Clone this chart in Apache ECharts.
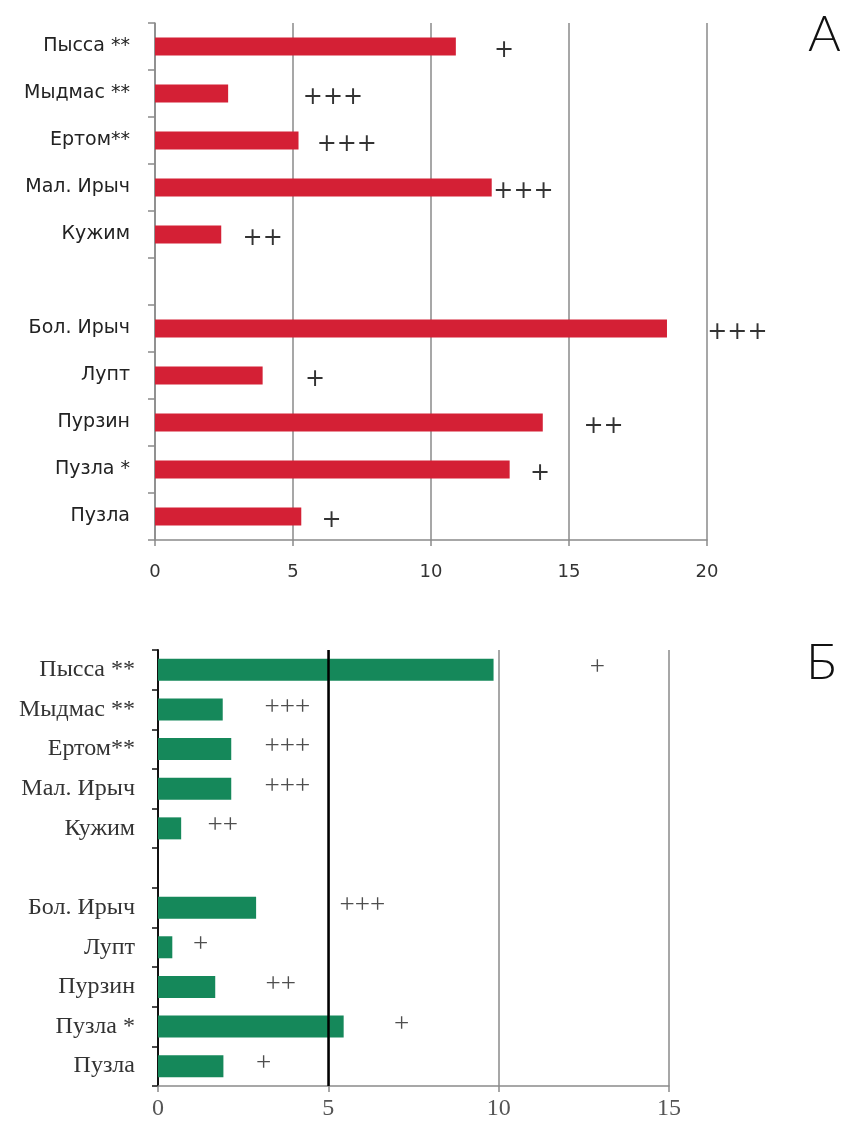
<!DOCTYPE html>
<html>
<head>
<meta charset="utf-8">
<script src="https://cdn.jsdelivr.net/npm/echarts@6/dist/echarts.min.js"></script>
<style>
  html, body { margin: 0; padding: 0; background: #fff; }
  #chart { width: 848px; height: 1125px; }
</style>
</head>
<body>
<div id="chart"></div>
<script>
// rivers, top to bottom; the blank slot separates the two groups
const categories = ['Пысса **', 'Мыдмас **', 'Ертом**', 'Мал. Ирыч', 'Кужим', '', 'Бол. Ирыч', 'Лупт', 'Пурзин', 'Пузла *', 'Пузла']

// panel A
const valuesA = [10.9, 2.65, 5.2, 12.2, 2.4, null, 18.55, 3.9, 14.05, 12.85, 5.3]
const marksA = ['+', '+++', '+++', '+++', '++', '', '+++', '+', '++', '+', '+']
const markPosA = [12.65, 6.45, 6.95, 13.35, 3.9, null, 21.1, 5.8, 16.25, 13.95, 6.4]
const ticksA = [0, 5, 10, 15, 20]

// panel Б
const valuesB = [9.85, 1.9, 2.15, 2.15, 0.68, null, 2.88, 0.42, 1.68, 5.45, 1.92]
const marksB = ['+', '+++', '+++', '+++', '++', '', '+++', '+', '++', '+', '+']
const markPosB = [12.9, 3.8, 3.8, 3.8, 1.9, null, 6.0, 1.25, 3.6, 7.15, 3.1]
const ticksB = [0, 5, 10, 15]

const sans = 'DejaVu Sans'
const serif = 'Liberation Serif'

function markData(pos, marks) {
  return pos.map((x, i) => x == null ? null : { value: [x, i], name: marks[i] })
    .filter(Boolean)
}

const chart = echarts.init(document.getElementById('chart'))

chart.setOption({
  animation: false,
  backgroundColor: '#fff',
  grid: [
    { left: 155, top: 23, width: 552, height: 517 },
    { left: 158, top: 650, width: 511, height: 436 },
  ],
  xAxis: [
    {
      gridIndex: 0, type: 'value',
      min: ticksA[0], max: ticksA[ticksA.length - 1], interval: 5,
      axisLine: { show: true, lineStyle: { color: '#8a8a8a', width: 1.5 } },
      axisTick: { show: true, length: 6, lineStyle: { color: '#8a8a8a', width: 1.5 } },
      axisLabel: { margin: 23, fontFamily: sans, fontSize: 18, color: '#333' },
      splitLine: { show: true, lineStyle: { color: '#8a8a8a', width: 1.5 } },
    },
    {
      gridIndex: 1, type: 'value',
      min: ticksB[0], max: ticksB[ticksB.length - 1], interval: 5,
      axisLine: { show: true, lineStyle: { color: '#8a8a8a', width: 1.5 } },
      axisTick: { show: true, length: 6, lineStyle: { color: '#8a8a8a', width: 1.5 } },
      axisLabel: { margin: 11, fontFamily: serif, fontSize: 24, color: '#555' },
      splitLine: { show: true, lineStyle: { color: '#8a8a8a', width: 1.5 } },
    },
  ],
  yAxis: [
    {
      gridIndex: 0, type: 'category', data: categories, inverse: true,
      axisLine: { show: true, lineStyle: { color: '#8a8a8a', width: 1.5 } },
      axisTick: { show: true, length: 7, lineStyle: { color: '#8a8a8a', width: 1.5 } },
      axisLabel: { margin: 25, fontFamily: sans, fontSize: 19, color: '#222' },
    },
    {
      gridIndex: 1, type: 'category', data: categories, inverse: true,
      axisLine: { show: true, lineStyle: { color: '#111', width: 2 } },
      axisTick: { show: true, length: 6, lineStyle: { color: '#111', width: 1.5 } },
      axisLabel: { margin: 23, fontFamily: serif, fontSize: 24, color: '#333' },
    },
  ],
  series: [
    {
      type: 'bar', xAxisIndex: 0, yAxisIndex: 0,
      data: valuesA, barWidth: 18,
      itemStyle: { color: '#d42035' },
    },
    {
      type: 'scatter', xAxisIndex: 0, yAxisIndex: 0, clip: false,
      symbolSize: 0, silent: true,
      data: markData(markPosA, marksA),
      label: {
        show: true, position: 'inside', formatter: p => p.name,
        fontFamily: sans, fontSize: 24, color: '#000', offset: [0, 4],
      },
    },
    {
      type: 'bar', xAxisIndex: 1, yAxisIndex: 1,
      data: valuesB, barWidth: 22,
      itemStyle: { color: '#15885a' },
      markLine: {
        silent: true, symbol: 'none', label: { show: false },
        lineStyle: { color: '#000', width: 2.5, type: 'solid' },
        data: [{ xAxis: 5 }],
      },
    },
    {
      type: 'scatter', xAxisIndex: 1, yAxisIndex: 1, clip: false,
      symbolSize: 0, silent: true,
      data: markData(markPosB, marksB),
      label: {
        show: true, position: 'inside', formatter: p => p.name,
        fontFamily: serif, fontSize: 27, color: '#222', offset: [0, -2],
      },
    },
  ],
  graphic: [
    {
      type: 'text', left: 808, top: 10,
      style: { text: 'A', font: '300 50px Lato', fill: '#111' },
    },
    {
      type: 'text', left: 806, top: 638,
      style: { text: 'Б', font: '300 50px Lato', fill: '#111' },
    },
  ],
})

window.addEventListener('resize', () => chart.resize())
</script>
</body>
</html>
